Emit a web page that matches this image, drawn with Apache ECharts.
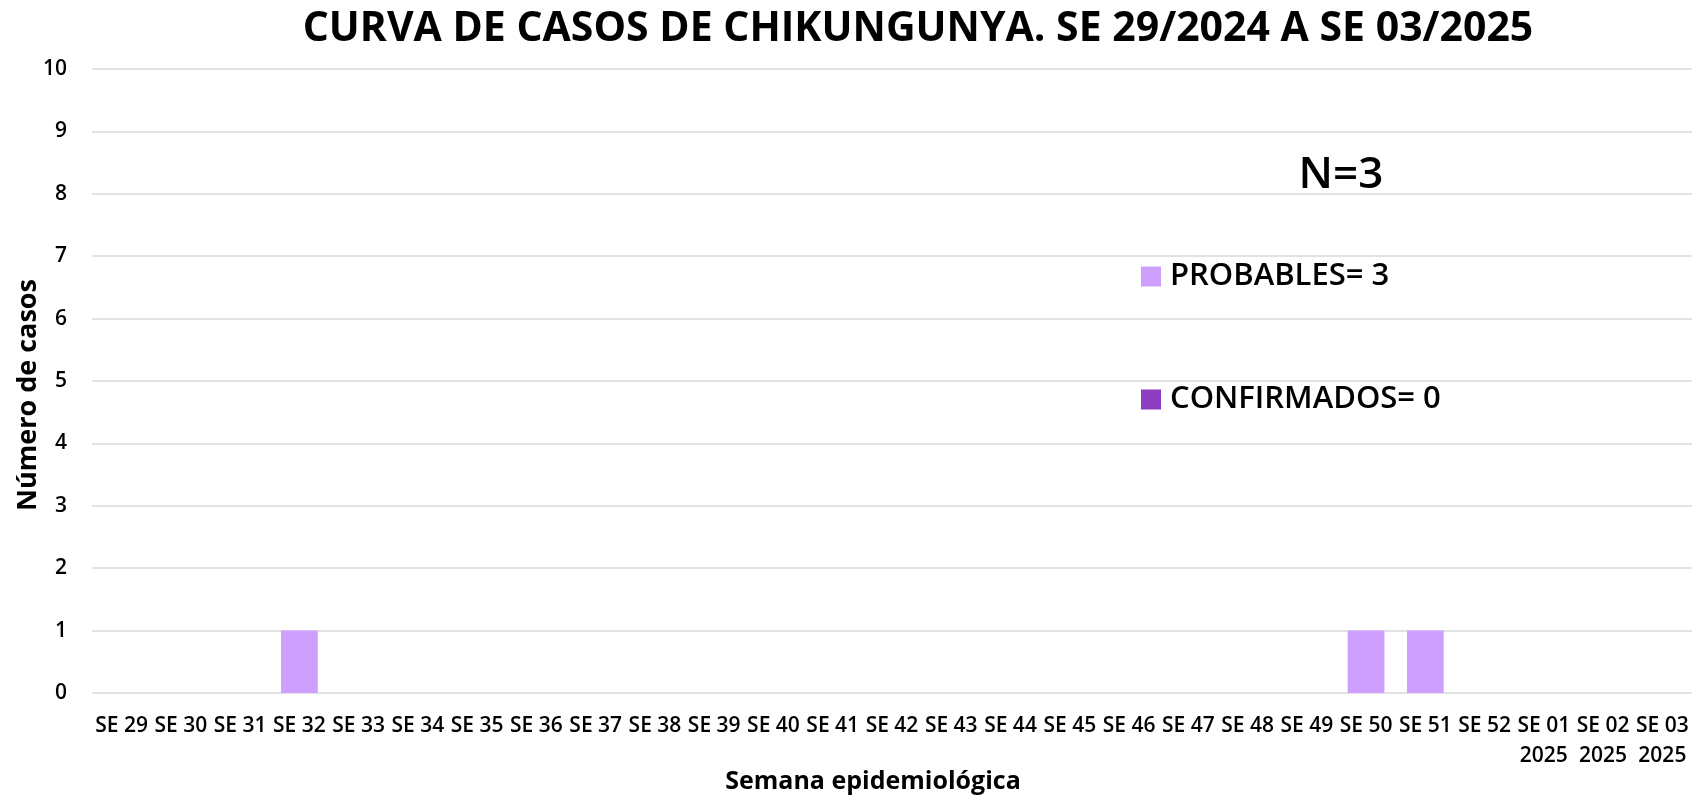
<!DOCTYPE html>
<html>
<head>
<meta charset="utf-8">
<script src="https://cdn.jsdelivr.net/npm/echarts@6/dist/echarts.min.js"></script>
<style>
html,body{margin:0;padding:0;background:#fff;}
#chart{width:1698px;height:799px;}
</style>
</head>
<body>
<div id="chart"></div>
<script>
const categories = ['SE 29','SE 30','SE 31','SE 32','SE 33','SE 34','SE 35','SE 36','SE 37','SE 38','SE 39','SE 40','SE 41','SE 42','SE 43','SE 44','SE 45','SE 46','SE 47','SE 48','SE 49','SE 50','SE 51','SE 52','SE 01\n2025','SE 02\n2025','SE 03\n2025'];
const probables = [0,0,0,1,0,0,0,0,0,0,0,0,0,0,0,0,0,0,0,0,0,1,1,0,0,0,0];
const confirmados = [0,0,0,0,0,0,0,0,0,0,0,0,0,0,0,0,0,0,0,0,0,0,0,0,0,0,0];
const seriesNames = ['PROBABLES= 3','CONFIRMADOS= 0'];
const titleText = 'CURVA DE CASOS DE CHIKUNGUNYA. SE 29/2024 A SE 03/2025';
const totalText = 'N=3';

const FONT = '"Open Sans", "Noto Sans", sans-serif';
const chart = echarts.init(document.getElementById('chart'));
chart.setOption({
  animation: false,
  backgroundColor: '#ffffff',
  textStyle: { fontFamily: FONT },
  title: {
    text: titleText,
    left: 913, top: 24, textAlign: 'center', textVerticalAlign: 'middle',
    textStyle: { fontFamily: FONT, fontSize: 41, fontWeight: 'bold', color: '#000' }
  },
  graphic: [{
    type: 'text', x: 1341, y: 175,
    style: { text: totalText, font: '600 44px "Open Sans"', fill: '#000', align: 'center', verticalAlign: 'middle' }
  }],
  legend: {
    orient: 'vertical', left: 1136, top: 255,
    itemWidth: 20, itemHeight: 20, itemGap: 90,
    icon: 'rect',
    textStyle: { fontFamily: FONT, fontSize: 31, fontWeight: 600, color: '#000', lineHeight: 33, padding: [0,0,0,4] },
    data: seriesNames
  },
  grid: { left: 92, right: 6, top: 69, bottom: 106, containLabel: false, outerBoundsMode: 'none' },
  xAxis: {
    type: 'category', data: categories,
    axisLine: { show: false }, axisTick: { show: false },
    axisLabel: { interval: 0, margin: 18, fontFamily: FONT, fontSize: 21, fontWeight: 600, color: '#000', lineHeight: 30 },
    name: 'Semana epidemiológica', nameLocation: 'middle', nameGap: 76, nameMoveOverlap: false,
    nameTextStyle: { fontFamily: FONT, fontSize: 25, fontWeight: 'bold', color: '#000', padding: [0, 38, 0, 0] }
  },
  yAxis: {
    type: 'value', min: 0, max: 10, interval: 1,
    axisLine: { show: false }, axisTick: { show: false },
    splitLine: { lineStyle: { color: '#d9d9d9', width: 1.5 } },
    axisLabel: { margin: 25, fontFamily: FONT, fontSize: 21, fontWeight: 600, color: '#000' },
    name: 'Número de casos', nameLocation: 'middle', nameGap: 50, nameRotate: 90, nameMoveOverlap: false,
    nameTextStyle: { fontFamily: FONT, fontSize: 27, fontWeight: 'bold', color: '#000', padding: [0, 28, 0, 0] }
  },
  series: [
    { name: seriesNames[0], type: 'bar', stack: 'total', data: probables, barWidth: '62%', itemStyle: { color: '#CF9FFD' } },
    { name: seriesNames[1], type: 'bar', stack: 'total', data: confirmados, barWidth: '62%', itemStyle: { color: '#8B3DC2' } }
  ]
});
</script>
</body>
</html>
